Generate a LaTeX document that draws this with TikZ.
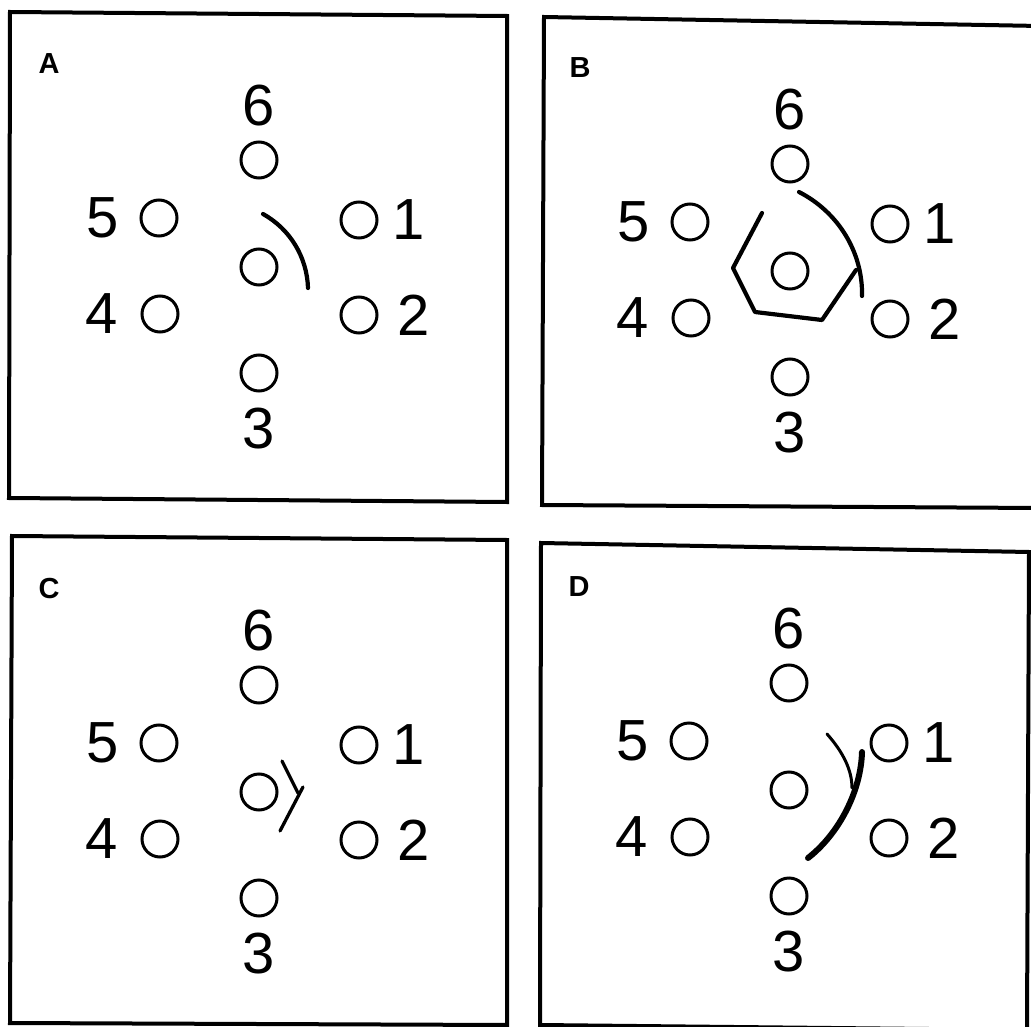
\documentclass[tikz,border=0pt]{standalone}
\usepackage{fontspec}
\setmainfont{Liberation Sans}
\usetikzlibrary{positioning}

\begin{document}
\begin{tikzpicture}[
  x=1pt,y=-1pt,
  hole/.style={draw,circle,line width=3pt,minimum size=36pt,inner sep=0pt},
  digit/.style={inner sep=0pt,font=\fontsize{58}{58}\selectfont},
  tag/.style={inner sep=0pt,font=\fontsize{29}{29}\selectfont\bfseries},
  frame/.style={line width=4pt,line join=miter},
  stroke/.style={line width=4.2pt,line cap=round,line join=round}
]
\useasboundingbox (0,0) rectangle (1031,1027);
\clip (0,0) rectangle (1031,1027);
\fill[white] (0,0) rectangle (1031,1027);

\draw[frame] (10,12) -- (507,16) -- (507,502) -- (9,498) -- cycle;
\draw[frame] (544,17) -- (1040,26) -- (1040,508) -- (542,505) -- cycle;
\draw[frame] (12,536) -- (507,540) -- (507,1025) -- (10,1023) -- cycle;
\draw[frame] (541,543) -- (1029,552) -- (1027,1030) -- (540,1025) -- cycle;

\foreach \p/\cx/\cy in {A/259/267,B/790/271,C/259/792,D/789/790}{
  \begin{scope}[shift={(\cx,\cy)}]
    \node[hole] (\p0) at (0,0) {};
    \node[hole] (\p1) at (100,-47) {};
    \node[hole] (\p2) at (100,48) {};
    \node[hole] (\p3) at (0,106) {};
    \node[hole] (\p4) at (-99,47) {};
    \node[hole] (\p5) at (-100,-49) {};
    \node[hole] (\p6) at (0,-107) {};
    \node[digit,right=14pt of \p1] (n\p1) {1};
    \node[digit,right=19pt of \p2] (n\p2) {2};
    \node[digit,below=15pt of \p3] (n\p3) {3};
    \node[digit,left=23pt of \p4] (n\p4) {4};
    \node[digit,left=21pt of \p5] (n\p5) {5};
    \node[digit,above=14pt of \p6] (n\p6) {6};
    \node[tag] (t\p) at (-210,-203) {\p};
  \end{scope}
}

% A
\draw[stroke] (263,214) .. controls (290,229) and (307,257) .. (308,288);
% B
\draw[stroke] (762,213) -- (733,268) -- (755,312) -- (822,320) -- (856,270);
\draw[stroke] (799,192) .. controls (838,212) and (863,252) .. (862,296);
% C
\draw[stroke,line width=3.3pt] (282,761) -- (298,793);
\draw[stroke,line width=3.3pt] (303,787) -- (280,831);
% D
\draw[stroke,line width=3pt] (827,734) .. controls (843,752) and (852,770) .. (852,788);
\draw[stroke,line width=6pt] (862,752) .. controls (861,790) and (840,833) .. (808,858);
\end{tikzpicture}
\end{document}
